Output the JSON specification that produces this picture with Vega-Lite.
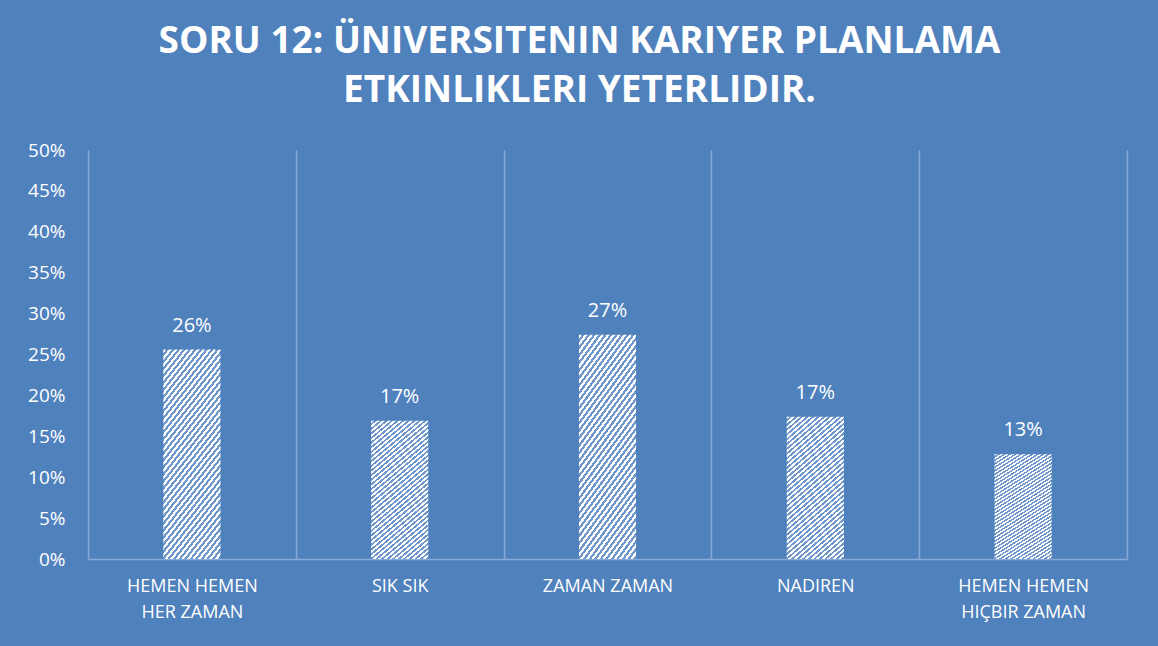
{
  "$schema": "https://vega.github.io/schema/vega-lite/v6.json",
  "autosize": {"type": "none"},
  "padding": {"left": 88, "top": 150, "right": 31, "bottom": 87},
  "width": 1039,
  "height": 409,
  "background": "#4f81bd",
  "config": {"view": {"stroke": null}, "font": "Open Sans"},
  "title": {
    "text": ["SORU 12: ÜNIVERSITENIN KARIYER PLANLAMA", "ETKINLIKLERI YETERLIDIR."],
    "font": "Open Sans",
    "fontSize": 37,
    "fontWeight": "bold",
    "color": "#ffffff",
    "anchor": "middle",
    "dx": -28,
    "lineHeight": 49,
    "offset": 31
  },
  "data": {
    "values": [
      {"kategori": "HEMEN HEMEN HER ZAMAN", "oran": 0.256},
      {"kategori": "SIK SIK", "oran": 0.169},
      {"kategori": "ZAMAN ZAMAN", "oran": 0.274},
      {"kategori": "NADIREN", "oran": 0.174},
      {"kategori": "HEMEN HEMEN HIÇBIR ZAMAN", "oran": 0.128}
    ]
  },
  "encoding": {
    "x": {
      "field": "kategori",
      "type": "nominal",
      "sort": null,
      "scale": {"paddingInner": 0, "paddingOuter": 0},
      "axis": {
        "title": null,
        "labelAngle": 0,
        "ticks": false,
        "domain": true,
        "domainColor": "#86aad9",
        "domainWidth": 1.5,
        "grid": true,
        "gridColor": "#86aad9",
        "gridWidth": 1.5,
        "tickBand": "extent",
        "labelPadding": 18,
        "labelFontSize": 18,
        "labelColor": "#ffffff",
        "labelLineHeight": 26,
        "labelFont": "Open Sans",
        "labelExpr": "datum.label == 'HEMEN HEMEN HER ZAMAN' ? ['HEMEN HEMEN', 'HER ZAMAN'] : datum.label == 'HEMEN HEMEN HIÇBIR ZAMAN' ? ['HEMEN HEMEN', 'HIÇBIR ZAMAN'] : datum.label"
      }
    },
    "y": {
      "field": "oran",
      "type": "quantitative",
      "scale": {"domain": [0, 0.5]},
      "axis": {
        "title": null,
        "format": ".0%",
        "tickCount": 10,
        "grid": false,
        "domain": false,
        "ticks": false,
        "labelPadding": 23,
        "labelFontSize": 19,
        "labelColor": "#ffffff",
        "labelFont": "Open Sans"
      }
    }
  },
  "layer": [
    {
      "mark": {
        "type": "bar",
        "width": {"band": 0.275},
        "fill": {
          "gradient": "linear",
          "x1": 0, "y1": 0, "x2": 0.414, "y2": 1.2,
          "stops": [
            {"offset": 0, "color": "#ffffff"},
            {"offset": 0.0125, "color": "#ffffff"}, {"offset": 0.0125, "color": "#7097cc"},
            {"offset": 0.025, "color": "#7097cc"}, {"offset": 0.025, "color": "#ffffff"},
            {"offset": 0.0375, "color": "#ffffff"}, {"offset": 0.0375, "color": "#7097cc"},
            {"offset": 0.05, "color": "#7097cc"}, {"offset": 0.05, "color": "#ffffff"},
            {"offset": 0.0625, "color": "#ffffff"}, {"offset": 0.0625, "color": "#7097cc"},
            {"offset": 0.075, "color": "#7097cc"}, {"offset": 0.075, "color": "#ffffff"},
            {"offset": 0.0875, "color": "#ffffff"}, {"offset": 0.0875, "color": "#7097cc"},
            {"offset": 0.1, "color": "#7097cc"}, {"offset": 0.1, "color": "#ffffff"},
            {"offset": 0.1125, "color": "#ffffff"}, {"offset": 0.1125, "color": "#7097cc"},
            {"offset": 0.125, "color": "#7097cc"}, {"offset": 0.125, "color": "#ffffff"},
            {"offset": 0.1375, "color": "#ffffff"}, {"offset": 0.1375, "color": "#7097cc"},
            {"offset": 0.15, "color": "#7097cc"}, {"offset": 0.15, "color": "#ffffff"},
            {"offset": 0.1625, "color": "#ffffff"}, {"offset": 0.1625, "color": "#7097cc"},
            {"offset": 0.175, "color": "#7097cc"}, {"offset": 0.175, "color": "#ffffff"},
            {"offset": 0.1875, "color": "#ffffff"}, {"offset": 0.1875, "color": "#7097cc"},
            {"offset": 0.2, "color": "#7097cc"}, {"offset": 0.2, "color": "#ffffff"},
            {"offset": 0.2125, "color": "#ffffff"}, {"offset": 0.2125, "color": "#7097cc"},
            {"offset": 0.225, "color": "#7097cc"}, {"offset": 0.225, "color": "#ffffff"},
            {"offset": 0.2375, "color": "#ffffff"}, {"offset": 0.2375, "color": "#7097cc"},
            {"offset": 0.25, "color": "#7097cc"}, {"offset": 0.25, "color": "#ffffff"},
            {"offset": 0.2625, "color": "#ffffff"}, {"offset": 0.2625, "color": "#7097cc"},
            {"offset": 0.275, "color": "#7097cc"}, {"offset": 0.275, "color": "#ffffff"},
            {"offset": 0.2875, "color": "#ffffff"}, {"offset": 0.2875, "color": "#7097cc"},
            {"offset": 0.3, "color": "#7097cc"}, {"offset": 0.3, "color": "#ffffff"},
            {"offset": 0.3125, "color": "#ffffff"}, {"offset": 0.3125, "color": "#7097cc"},
            {"offset": 0.325, "color": "#7097cc"}, {"offset": 0.325, "color": "#ffffff"},
            {"offset": 0.3375, "color": "#ffffff"}, {"offset": 0.3375, "color": "#7097cc"},
            {"offset": 0.35, "color": "#7097cc"}, {"offset": 0.35, "color": "#ffffff"},
            {"offset": 0.3625, "color": "#ffffff"}, {"offset": 0.3625, "color": "#7097cc"},
            {"offset": 0.375, "color": "#7097cc"}, {"offset": 0.375, "color": "#ffffff"},
            {"offset": 0.3875, "color": "#ffffff"}, {"offset": 0.3875, "color": "#7097cc"},
            {"offset": 0.4, "color": "#7097cc"}, {"offset": 0.4, "color": "#ffffff"},
            {"offset": 0.4125, "color": "#ffffff"}, {"offset": 0.4125, "color": "#7097cc"},
            {"offset": 0.425, "color": "#7097cc"}, {"offset": 0.425, "color": "#ffffff"},
            {"offset": 0.4375, "color": "#ffffff"}, {"offset": 0.4375, "color": "#7097cc"},
            {"offset": 0.45, "color": "#7097cc"}, {"offset": 0.45, "color": "#ffffff"},
            {"offset": 0.4625, "color": "#ffffff"}, {"offset": 0.4625, "color": "#7097cc"},
            {"offset": 0.475, "color": "#7097cc"}, {"offset": 0.475, "color": "#ffffff"},
            {"offset": 0.4875, "color": "#ffffff"}, {"offset": 0.4875, "color": "#7097cc"},
            {"offset": 0.5, "color": "#7097cc"}, {"offset": 0.5, "color": "#ffffff"},
            {"offset": 0.5125, "color": "#ffffff"}, {"offset": 0.5125, "color": "#7097cc"},
            {"offset": 0.525, "color": "#7097cc"}, {"offset": 0.525, "color": "#ffffff"},
            {"offset": 0.5375, "color": "#ffffff"}, {"offset": 0.5375, "color": "#7097cc"},
            {"offset": 0.55, "color": "#7097cc"}, {"offset": 0.55, "color": "#ffffff"},
            {"offset": 0.5625, "color": "#ffffff"}, {"offset": 0.5625, "color": "#7097cc"},
            {"offset": 0.575, "color": "#7097cc"}, {"offset": 0.575, "color": "#ffffff"},
            {"offset": 0.5875, "color": "#ffffff"}, {"offset": 0.5875, "color": "#7097cc"},
            {"offset": 0.6, "color": "#7097cc"}, {"offset": 0.6, "color": "#ffffff"},
            {"offset": 0.6125, "color": "#ffffff"}, {"offset": 0.6125, "color": "#7097cc"},
            {"offset": 0.625, "color": "#7097cc"}, {"offset": 0.625, "color": "#ffffff"},
            {"offset": 0.6375, "color": "#ffffff"}, {"offset": 0.6375, "color": "#7097cc"},
            {"offset": 0.65, "color": "#7097cc"}, {"offset": 0.65, "color": "#ffffff"},
            {"offset": 0.6625, "color": "#ffffff"}, {"offset": 0.6625, "color": "#7097cc"},
            {"offset": 0.675, "color": "#7097cc"}, {"offset": 0.675, "color": "#ffffff"},
            {"offset": 0.6875, "color": "#ffffff"}, {"offset": 0.6875, "color": "#7097cc"},
            {"offset": 0.7, "color": "#7097cc"}, {"offset": 0.7, "color": "#ffffff"},
            {"offset": 0.7125, "color": "#ffffff"}, {"offset": 0.7125, "color": "#7097cc"},
            {"offset": 0.725, "color": "#7097cc"}, {"offset": 0.725, "color": "#ffffff"},
            {"offset": 0.7375, "color": "#ffffff"}, {"offset": 0.7375, "color": "#7097cc"},
            {"offset": 0.75, "color": "#7097cc"}, {"offset": 0.75, "color": "#ffffff"},
            {"offset": 0.7625, "color": "#ffffff"}, {"offset": 0.7625, "color": "#7097cc"},
            {"offset": 0.775, "color": "#7097cc"}, {"offset": 0.775, "color": "#ffffff"},
            {"offset": 0.7875, "color": "#ffffff"}, {"offset": 0.7875, "color": "#7097cc"},
            {"offset": 0.8, "color": "#7097cc"}, {"offset": 0.8, "color": "#ffffff"},
            {"offset": 0.8125, "color": "#ffffff"}, {"offset": 0.8125, "color": "#7097cc"},
            {"offset": 0.825, "color": "#7097cc"}, {"offset": 0.825, "color": "#ffffff"},
            {"offset": 0.8375, "color": "#ffffff"}, {"offset": 0.8375, "color": "#7097cc"},
            {"offset": 0.85, "color": "#7097cc"}, {"offset": 0.85, "color": "#ffffff"},
            {"offset": 0.8625, "color": "#ffffff"}, {"offset": 0.8625, "color": "#7097cc"},
            {"offset": 0.875, "color": "#7097cc"}, {"offset": 0.875, "color": "#ffffff"},
            {"offset": 0.8875, "color": "#ffffff"}, {"offset": 0.8875, "color": "#7097cc"},
            {"offset": 0.9, "color": "#7097cc"}, {"offset": 0.9, "color": "#ffffff"},
            {"offset": 0.9125, "color": "#ffffff"}, {"offset": 0.9125, "color": "#7097cc"},
            {"offset": 0.925, "color": "#7097cc"}, {"offset": 0.925, "color": "#ffffff"},
            {"offset": 0.9375, "color": "#ffffff"}, {"offset": 0.9375, "color": "#7097cc"},
            {"offset": 0.95, "color": "#7097cc"}, {"offset": 0.95, "color": "#ffffff"},
            {"offset": 0.9625, "color": "#ffffff"}, {"offset": 0.9625, "color": "#7097cc"},
            {"offset": 0.975, "color": "#7097cc"}, {"offset": 0.975, "color": "#ffffff"},
            {"offset": 0.9875, "color": "#ffffff"}, {"offset": 0.9875, "color": "#7097cc"},
            {"offset": 1, "color": "#7097cc"}
          ]
        }
      }
    },
    {
      "mark": {
        "type": "text",
        "baseline": "alphabetic",
        "dy": -18,
        "fontSize": 20,
        "font": "Open Sans",
        "color": "#ffffff"
      },
      "encoding": {
        "text": {"field": "oran", "type": "quantitative", "format": ".0%"}
      }
    }
  ]
}
